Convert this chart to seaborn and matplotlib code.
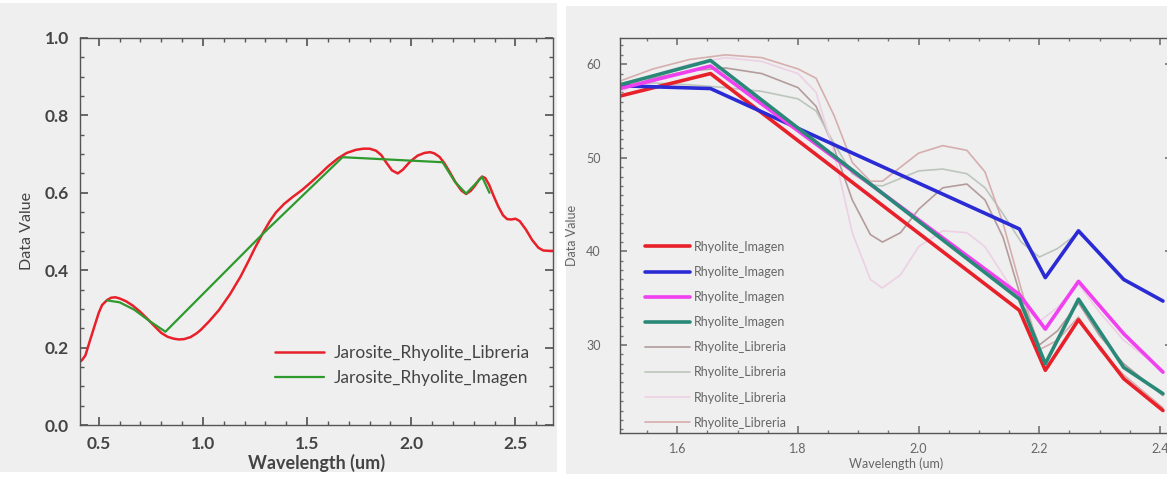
import numpy as np
import pandas as pd
import matplotlib
matplotlib.use("Agg")
import matplotlib.pyplot as plt
from matplotlib.patches import Rectangle
from matplotlib.ticker import MultipleLocator
import seaborn as sns

# ---- left panel: Jarosite spectra ----
lib_wl = [0.40, 0.42, 0.436, 0.46, 0.484, 0.50, 0.516, 0.54, 0.56, 0.58, 0.60, 0.63,
          0.662, 0.70, 0.732, 0.77, 0.80, 0.83, 0.86, 0.885, 0.91, 0.94, 0.97, 0.99,
          1.03, 1.077, 1.13, 1.181, 1.22, 1.25, 1.29, 1.32, 1.35, 1.389, 1.43, 1.475,
          1.52, 1.561, 1.60, 1.648, 1.69, 1.734, 1.77, 1.80, 1.83, 1.855, 1.88, 1.907,
          1.935, 1.96, 1.993, 2.03, 2.063, 2.09, 2.11, 2.135, 2.158, 2.185, 2.21, 2.24,
          2.263, 2.285, 2.305, 2.325, 2.34, 2.355, 2.374, 2.395, 2.417, 2.44, 2.46, 2.48,
          2.50, 2.52, 2.55, 2.58, 2.61, 2.633, 2.66, 2.70]
lib_val = [0.159, 0.168, 0.180, 0.222, 0.263, 0.290, 0.310, 0.323, 0.329, 0.330, 0.327, 0.320,
           0.309, 0.292, 0.275, 0.254, 0.238, 0.228, 0.223, 0.221, 0.222, 0.227, 0.237, 0.246,
           0.268, 0.297, 0.338, 0.384, 0.425, 0.458, 0.498, 0.526, 0.549, 0.571, 0.589, 0.607,
           0.628, 0.648, 0.668, 0.689, 0.703, 0.711, 0.714, 0.714, 0.709, 0.698, 0.678, 0.658,
           0.650, 0.660, 0.680, 0.696, 0.703, 0.705, 0.702, 0.693, 0.677, 0.653, 0.629, 0.606,
           0.597, 0.605, 0.618, 0.634, 0.642, 0.638, 0.620, 0.592, 0.565, 0.542, 0.532, 0.531,
           0.533, 0.527, 0.505, 0.478, 0.458, 0.451, 0.450, 0.450]
img_wl = [0.54, 0.60, 0.67, 0.74, 0.82, 1.28, 1.67, 2.15, 2.21, 2.263, 2.34, 2.375]
img_val = [0.322, 0.317, 0.298, 0.27, 0.241, 0.49, 0.692, 0.679, 0.628, 0.598, 0.641, 0.60]

# ---- right panel: Rhyolite spectra ----
img_x = [1.505, 1.655, 2.167, 2.21, 2.265, 2.34, 2.405]
img_red = [56.6, 59.0, 33.7, 27.3, 32.7, 26.4, 23.0]
img_blue = [57.7, 57.4, 42.4, 37.2, 42.2, 37.0, 34.7]
img_magenta = [57.4, 59.8, 35.4, 31.7, 36.8, 31.2, 27.1]
img_teal = [57.8, 60.4, 34.9, 28.0, 34.9, 27.6, 24.8]

lib_x = [1.505, 1.56, 1.62, 1.68, 1.74, 1.80, 1.83, 1.86, 1.89, 1.92, 1.94, 1.97,
         2.00, 2.04, 2.08, 2.11, 2.14, 2.17, 2.20, 2.23, 2.265, 2.30, 2.34, 2.405]
lib_1 = [57.5, 58.5, 59.3, 59.6, 59.0, 57.5, 55.5, 51.0, 45.5, 41.8, 41.0, 42.0,
         44.5, 46.8, 47.2, 45.5, 41.5, 35.0, 30.0, 31.5, 34.5, 31.0, 28.0, 24.6]
lib_2 = [57.8, 58.0, 57.8, 57.5, 57.1, 56.3, 55.0, 51.5, 48.3, 47.1, 47.0, 47.8,
         48.6, 48.8, 48.3, 46.8, 44.0, 41.0, 39.4, 40.3, 42.0, 39.8, 37.0, 34.6]
lib_3 = [57.0, 58.8, 60.0, 60.7, 60.3, 59.0, 57.0, 50.5, 42.0, 37.0, 36.1, 37.5,
         40.5, 42.2, 42.0, 40.5, 37.5, 34.5, 32.5, 34.0, 36.5, 33.5, 30.5, 27.3]
lib_4 = [58.2, 59.5, 60.5, 61.0, 60.7, 59.5, 58.5, 54.5, 49.5, 47.5, 47.5, 49.0,
         50.5, 51.3, 50.8, 48.5, 43.0, 36.0, 29.5, 30.5, 33.0, 29.5, 26.8, 23.3]

W, H = 1167, 482
sns.set_theme(style="ticks")
plt.rcParams["font.family"] = ["Lato", "DejaVu Sans"]

fig = plt.figure(figsize=(W / 100, H / 100), dpi=100, facecolor="white")
bg = "#efefef"
fig.patches.append(Rectangle((0, 10 / H), 557 / W, 1 - 13 / H, transform=fig.transFigure,
                             facecolor=bg, edgecolor="none", zorder=-10))
fig.patches.append(Rectangle((566 / W, 8 / H), 1 - 566 / W, 1 - 14 / H, transform=fig.transFigure,
                             facecolor=bg, edgecolor="none", zorder=-10))

ax1 = fig.add_axes([80 / W, 57 / H, 473 / W, 387 / H])
ax2 = fig.add_axes([620 / W, 49 / H, 552 / W, 395 / H])

for ax in (ax1, ax2):
    ax.set_facecolor(bg)
    for s in ax.spines.values():
        s.set_color("#555555")
        s.set_linewidth(1.0)

# left
sns.lineplot(x=lib_wl, y=lib_val, ax=ax1, color="#e8202a", linewidth=1.8,
             label="Jarosite_Rhyolite_Libreria")
sns.lineplot(x=img_wl, y=img_val, ax=ax1, color="#2e9a2e", linewidth=1.6,
             label="Jarosite_Rhyolite_Imagen")
ax1.set_xlim(0.41, 2.68)
ax1.set_ylim(0, 1.0)
ax1.xaxis.set_major_locator(MultipleLocator(0.5))
ax1.xaxis.set_minor_locator(MultipleLocator(0.1))
ax1.yaxis.set_major_locator(MultipleLocator(0.2))
ax1.yaxis.set_minor_locator(MultipleLocator(0.05))
ax1.tick_params(which="both", direction="in", top=True, right=True, colors="#555555",
                labelcolor="#444444", labelsize=12.5)
ax1.tick_params(which="major", length=6)
ax1.tick_params(which="minor", length=3)
for lab in ax1.get_xticklabels() + ax1.get_yticklabels():
    lab.set_fontweight("bold")
ax1.tick_params(axis="x", pad=8)
ax1.tick_params(axis="y", pad=8)
ax1.set_xlabel("Wavelength (um)", fontsize=13, color="#444444", fontweight="bold", labelpad=1)
ax1.set_ylabel("Data Value", fontsize=11.5, color="#444444", labelpad=8)
ax1.legend(loc="lower right", bbox_to_anchor=(0.985, 0.06), frameon=False, fontsize=12.5,
           handlelength=2.8, labelspacing=0.55, handletextpad=0.6, labelcolor="#444444")

# right
img_series = [(img_red, "#e8202a"), (img_blue, "#2b2bd6"),
              (img_magenta, "#f040f0"), (img_teal, "#2a8878")]
lib_series = [(lib_1, "#b49c9c"), (lib_2, "#bcc6bc"), (lib_3, "#edd0e4"), (lib_4, "#d6aeae")]
for vals, col in lib_series:
    sns.lineplot(x=lib_x, y=vals, ax=ax2, color=col, linewidth=1.2, label="Rhyolite_Libreria")
for vals, col in img_series:
    sns.lineplot(x=img_x, y=vals, ax=ax2, color=col, linewidth=2.6, label="Rhyolite_Imagen")
handles, labels = ax2.get_legend_handles_labels()
order = [4, 5, 6, 7, 0, 1, 2, 3]
ax2.set_xlim(1.505, 2.42)
ax2.set_ylim(20.6, 62.8)
ax2.xaxis.set_major_locator(MultipleLocator(0.2))
ax2.xaxis.set_minor_locator(MultipleLocator(0.05))
ax2.yaxis.set_major_locator(MultipleLocator(10))
ax2.yaxis.set_minor_locator(MultipleLocator(1))
ax2.tick_params(which="both", direction="in", top=True, right=True, colors="#777777",
                labelcolor="#666666", labelsize=9)
ax2.tick_params(which="major", length=5)
ax2.tick_params(which="minor", length=2.5)
ax2.tick_params(axis="y", pad=14)
ax2.tick_params(axis="x", pad=7)
ax2.set_xlabel("Wavelength (um)", fontsize=9, color="#666666", labelpad=2)
ax2.set_ylabel("Data Value", fontsize=9, color="#666666", labelpad=6)
ax2.legend([handles[i] for i in order], [labels[i] for i in order],
           loc="upper left", bbox_to_anchor=(0.025, 0.515), frameon=False, fontsize=9,
           handlelength=3.6, labelspacing=1.05, handletextpad=0.3, labelcolor="#666666")

fig.savefig("out.png", dpi=100, facecolor="white")
